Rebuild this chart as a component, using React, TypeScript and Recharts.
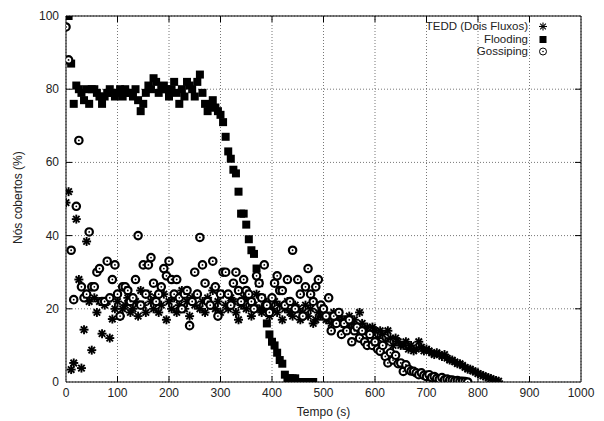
import React from "react";
import {
  ScatterChart,
  Scatter,
  XAxis,
  YAxis,
  CartesianGrid,
  ReferenceArea,
  Legend,
} from "recharts";

// sampling interval of the simulation (s)
const PASSO = 5;

const ticksTempo = [0, 100, 200, 300, 400, 500, 600, 700, 800, 900, 1000];
const ticksCobertura = [0, 20, 40, 60, 80, 100];

// TEDD (Dois Fluxos), t = 0..840
const tedd = [
  49, 52, 3.4, 5.2, 44.5, 28, 3.8, 14.3, 38.4, 22,
  8.7, 23, 19, 22, 13.2, 21, 22, 12, 17.2, 20,
  22, 18, 20, 21, 23, 19, 20, 22, 18, 25,
  21, 19, 24, 22, 20, 23, 19, 21, 24, 17,
  22, 20, 23, 19, 21, 25, 20, 22, 18, 23,
  21, 24, 20, 22, 19, 23, 21, 25, 20, 22,
  19, 24, 21, 20, 23, 22, 19, 17, 21, 23,
  20, 22, 18, 21, 24, 20, 19, 22, 21, 18,
  20, 22, 19, 21, 17, 20, 22, 19, 18, 21,
  20, 17, 19, 21, 18, 20, 16, 17, 19, 18,
  20, 17, 18, 16, 19, 17, 18, 16, 17, 15,
  18, 16, 17, 15, 19, 16, 14, 15, 13, 15,
  14, 12, 14, 13, 11, 14, 12, 10, 12, 11,
  10, 10, 11, 9, 10, 8.5, 9, 11, 9.5, 8.5,
  9, 8.5, 8, 7.5, 8, 7.5, 7, 7.5, 6.5, 6,
  6, 5.5, 5, 5, 4.5, 4, 3.5, 3.5, 3, 2.8,
  2.3, 2, 1.7, 1.4, 1.2, 0.9, 0.6, 0.4, 0.2,
];

// Flooding, t = 0..480
const flooding = [
  100, 100, 87, 76, 81, 80, 79, 77, 80, 76,
  80, 80, 79, 78, 76, 78, 79, 80, 79, 78,
  79, 80, 78, 80, 79, 79, 78, 80, 77, 74,
  76, 79, 81, 80, 83, 82, 79, 80, 81, 80,
  78, 80, 82, 79, 76, 80, 78, 82, 81, 80,
  78, 82, 84, 79, 76, 74, 75, 77, 75, 74,
  73, 71, 67, 63, 61, 58, 57, 52, 46, 46,
  43, 39, 36, 35, 31, 27, 23, 20, 16, 13,
  11, 10, 8, 6, 5, 2, 1, 1, 1, 1,
  0, 0, 0, 0, 0, 0, 0,
];

// Gossiping, t = 0..780
const gossiping = [
  97, 88, 36, 22.5, 48, 66, 26, 23, 24, 41,
  26, 26, 30, 31, 22, 22, 33, 23, 28, 32,
  24, 18, 26, 26, 25, 22, 23, 28, 40, 21,
  32, 24, 32, 34, 27, 22, 24, 26, 31, 29,
  33, 28, 24, 28, 23, 20, 24, 25, 15.4, 22,
  30, 24, 39.5, 32, 27, 22, 21, 33, 26, 18,
  24, 30, 30, 24, 21, 27, 30, 25, 22, 28,
  25, 24, 22, 20, 29, 27, 23, 32, 21, 19,
  23, 27, 29, 25, 25, 21, 28, 22, 36, 20,
  28, 24, 18, 26, 31, 24, 22, 26, 28, 21,
  20, 18, 23, 14, 18, 16, 19, 13, 16, 14,
  17, 11, 14, 15, 12, 14, 11, 10, 13, 10,
  11, 9, 8.4, 10, 7, 5.2, 8, 6, 7.3, 5,
  5.2, 2.9, 4.7, 3.5, 3, 2.9, 2.5, 2, 2.5, 1.8,
  1.5, 2, 1.2, 1.5, 1, 0.8, 1.2, 0.6, 0.8, 0.5,
  0.5, 0.3, 0.4, 0.2, 0.2, 0.1, 0,
];

const toPoints = (values: number[]) =>
  values.map((v, i) => ({ t: i * PASSO, v }));

const PLOT_LEFT = 66;
const PLOT_RIGHT = 581;
const PLOT_TOP = 16;
const PLOT_BOTTOM = 382;
const FONT = "'Liberation Sans', Arial, sans-serif";

function Asterisk({ cx, cy, r = 4.5, w = 1.9 }: any) {
  const d = r * 0.72;
  return (
    <g stroke="#000" strokeWidth={w}>
      <line x1={cx - r} y1={cy} x2={cx + r} y2={cy} />
      <line x1={cx} y1={cy - r} x2={cx} y2={cy + r} />
      <line x1={cx - d} y1={cy - d} x2={cx + d} y2={cy + d} />
      <line x1={cx - d} y1={cy + d} x2={cx + d} y2={cy - d} />
    </g>
  );
}

function Square({ cx, cy }: any) {
  return <rect x={cx - 4} y={cy - 4} width={8} height={8} fill="#000" />;
}

function Ring({ cx, cy }: any) {
  return (
    <g>
      <circle cx={cx} cy={cy} r={3.7} fill="#fff" stroke="#000" strokeWidth={2.2} />
      <circle cx={cx} cy={cy} r={0.9} fill="#000" />
    </g>
  );
}

function XTick({ x, payload }: any) {
  const edge = payload.value === 0 || payload.value === 1000;
  return (
    <g>
      {!edge && (
        <>
          <line x1={x} y1={PLOT_BOTTOM} x2={x} y2={PLOT_BOTTOM - 6} stroke="#000" />
          <line x1={x} y1={PLOT_TOP} x2={x} y2={PLOT_TOP + 6} stroke="#000" />
        </>
      )}
      <text x={x} y={PLOT_BOTTOM + 15} textAnchor="middle" fontSize={12} fill="#222" fontFamily={FONT}>
        {payload.value}
      </text>
    </g>
  );
}

function YTick({ y, payload }: any) {
  const edge = payload.value === 0 || payload.value === 100;
  return (
    <g>
      {!edge && (
        <>
          <line x1={PLOT_LEFT} y1={y} x2={PLOT_LEFT + 6} y2={y} stroke="#000" />
          <line x1={PLOT_RIGHT} y1={y} x2={PLOT_RIGHT - 6} y2={y} stroke="#000" />
        </>
      )}
      <text x={PLOT_LEFT - 7} y={y + 4} textAnchor="end" fontSize={12} fill="#222" fontFamily={FONT}>
        {payload.value}
      </text>
    </g>
  );
}

const legendItems = ["TEDD (Dois Fluxos)", "Flooding", "Gossiping"];

function LegendSymbol({ label }: { label: string }) {
  if (label === "Gossiping") {
    return (
      <g>
        <circle cx={15} cy={6.5} r={3.5} fill="none" stroke="#000" strokeWidth={1} />
        <circle cx={15} cy={6.5} r={0.8} fill="#000" />
      </g>
    );
  }
  if (label === "Flooding") {
    return <rect x={11.5} y={3} width={7} height={7} fill="#000" />;
  }
  return <Asterisk cx={15} cy={6.5} r={4} w={1.1} />;
}

function LegendBox() {
  return (
    <div style={{ fontFamily: FONT, fontSize: 11.5, color: "#222" }}>
      {legendItems.map((label) => (
        <div key={label} style={{ display: "flex", height: 12.5, lineHeight: "12.5px" }}>
          <span style={{ width: 128, textAlign: "right", whiteSpace: "nowrap" }}>{label}</span>
          <svg width={30} height={12.5}>
            <LegendSymbol label={label} />
          </svg>
        </div>
      ))}
    </div>
  );
}

export default function App() {
  return (
    <div style={{ position: "absolute", left: 0, top: 0, background: "#fff" }}>
      <ScatterChart
        width={604}
        height={421}
        margin={{ top: PLOT_TOP, right: 604 - PLOT_RIGHT, bottom: 0, left: 0 }}
      >
        <CartesianGrid stroke="#777" strokeDasharray="1 2" />
        <XAxis
          type="number"
          dataKey="t"
          domain={[0, 1000]}
          ticks={ticksTempo}
          height={421 - PLOT_BOTTOM}
          axisLine={false}
          tickLine={false}
          tick={<XTick />}
          label={{ value: "Tempo (s)", position: "insideBottom", offset: 5, fontSize: 12, fill: "#222", fontFamily: FONT }}
          allowDataOverflow
        />
        <YAxis
          type="number"
          dataKey="v"
          domain={[0, 100]}
          ticks={ticksCobertura}
          width={PLOT_LEFT}
          axisLine={false}
          tickLine={false}
          tick={<YTick />}
          label={{ value: "Nós cobertos (%)", angle: -90, position: "insideLeft", offset: 18, dy: 45, fontSize: 12, fill: "#222", fontFamily: FONT }}
          allowDataOverflow
        />
        <ReferenceArea x1={0} x2={1000} y1={0} y2={100} fill="none" stroke="#000" strokeWidth={1} />
        <Legend
          layout="vertical"
          align="center"
          verticalAlign="middle"
          content={<LegendBox />}
          wrapperStyle={{ left: 400, top: 20, width: 170, height: 38 }}
        />
        <Scatter name="TEDD (Dois Fluxos)" data={toPoints(tedd)} shape={<Asterisk />} isAnimationActive={false} />
        <Scatter name="Flooding" data={toPoints(flooding)} shape={<Square />} isAnimationActive={false} />
        <Scatter name="Gossiping" data={toPoints(gossiping)} shape={<Ring />} isAnimationActive={false} />
      </ScatterChart>
    </div>
  );
}
